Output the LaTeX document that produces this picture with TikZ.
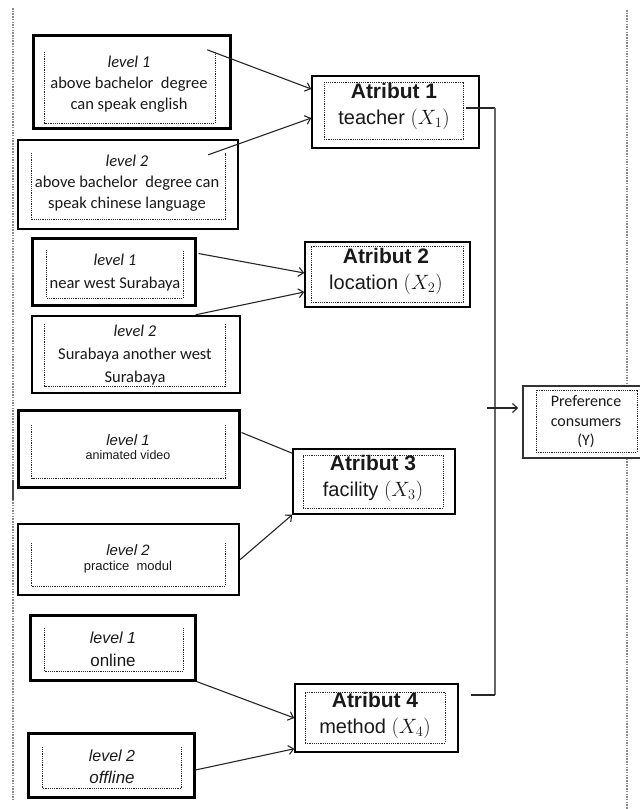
\documentclass[tikz,border=0pt]{standalone}
\usepackage{fontspec}
\setmainfont{Liberation Sans}
\newfontfamily\calfont{Carlito}
\usetikzlibrary{calc,arrows.meta}
\newcommand\lvlframe[1]{\draw[innerline] (#1.north west) -- (#1.south west) -- (#1.south east) -- (#1.north east);}
\begin{document}
\begin{tikzpicture}[x=1pt,y=-1pt,
  outerbox/.style={draw=black, rectangle, inner sep=0pt},
  innerline/.style={draw=black!85, dash pattern=on 1.2pt off 1pt, line width=1pt},
  innerbox/.style={innerline, rectangle, inner sep=0pt},
  innerslot/.style={rectangle, inner sep=0pt},
  txt/.style={inner sep=0pt, align=center, text=black!90},
  conn/.style={draw=black!85, line width=1.1pt, -{Straight Barb[length=5pt,width=9pt]}},
  plainline/.style={draw=black!85, line width=1.1pt},
  sidedot/.style={draw=black!45, line width=1.2pt, dash pattern=on 1.5pt off 1.2pt},
  lvlA/.style={txt, font=\calfont\fontsize{16.5}{21}\selectfont},
  lvlB/.style={txt, font=\calfont\fontsize{16.5}{23}\selectfont},
  attr/.style={txt, font=\fontsize{20}{26}\selectfont},
]
\useasboundingbox (0,0) rectangle (640,809);

% side dotted lines
\coordinate (lt) at (13,8);
\coordinate (lb) at (13,800);
\draw[sidedot] (lt) -- (lb);
\draw[black!70, line width=1.2pt] (13,480) -- (13,500);

% ---------- group 1
\node[outerbox, line width=3pt, minimum width=197pt, minimum height=93pt] (l1a) at (131.5,81.5) {};
\node[innerslot, minimum width=170pt, minimum height=71pt] (l1ai) at (130,87.5) {};
\lvlframe{l1ai}
\node[lvlA] (l1at) at (129,84) {\textit{level 1}\\above bachelor\ \ degree\\can speak english};

\node[outerbox, line width=2.5pt, minimum width=220pt, minimum height=89pt] (l1b) at (128,184.5) {};
\node[innerslot, minimum width=193pt, minimum height=66pt] (l1bi) at (128.5,186) {};
\lvlframe{l1bi}
\node[lvlA] (l1bt) at (127,183) {\textit{level 2}\\above bachelor\ \ degree can\\speak chinese\ language};

\node[outerbox, line width=1.5pt, minimum width=167pt, minimum height=72pt] (atr1) at (395.5,112) {};
\node[innerbox, minimum width=139pt, minimum height=57pt] (atr1i) at (393.5,110.5) {};
\node[attr] (atr1t) at (394,106) {\textbf{\fontsize{21}{26}\selectfont Atribut 1}\\teacher $(X_1)$};

% ---------- group 2
\node[outerbox, line width=3pt, minimum width=163pt, minimum height=67pt] (l2a) at (113.5,271.5) {};
\node[innerslot, minimum width=136pt, minimum height=48pt] (l2ai) at (115,274) {};
\lvlframe{l2ai}
\node[lvlB] (l2at) at (115,273) {\textit{level 1}\\near west Surabaya};

\node[outerbox, line width=2.5pt, minimum width=208pt, minimum height=77pt] (l2b) at (136,354.5) {};
\node[innerslot, minimum width=180pt, minimum height=62pt] (l2bi) at (135,355) {};
\lvlframe{l2bi}
\node[lvlB] (l2bt) at (135,355) {\textit{level 2}\\Surabaya another west\\Surabaya};

\node[outerbox, line width=1.5pt, minimum width=165pt, minimum height=65pt] (atr2) at (387.5,274.5) {};
\node[innerbox, minimum width=152pt, minimum height=56pt] (atr2i) at (387,274) {};
\node[attr] (atr2t) at (386,271) {\textbf{\fontsize{21}{26}\selectfont Atribut 2}\\location $(X_2)$};

% ---------- group 3
\node[outerbox, line width=3pt, minimum width=221pt, minimum height=77pt] (l3a) at (128.5,448.5) {};
\node[innerslot, minimum width=193pt, minimum height=53pt] (l3ai) at (128.5,451.5) {};
\lvlframe{l3ai}
\node[txt] (l3at) at (128,447) {{\fontsize{15}{16}\selectfont\itshape level 1}\\[2pt]{\fontsize{12.5}{14}\selectfont animated video}};

\node[outerbox, line width=2.5pt, minimum width=221pt, minimum height=71pt] (l3b) at (128.5,559.5) {};
\node[innerslot, minimum width=193pt, minimum height=43pt] (l3bi) at (128.5,564.5) {};
\lvlframe{l3bi}
\node[txt] (l3bt) at (128,559) {{\fontsize{15}{16}\selectfont\itshape level 2}\\[3pt]{\fontsize{13}{14}\selectfont practice\ \ modul}};

\node[outerbox, line width=1.5pt, minimum width=162pt, minimum height=65pt] (atr3) at (374,481.5) {};
\node[innerbox, minimum width=140pt, minimum height=53pt] (atr3i) at (373,481.5) {};
\node[attr] (atr3t) at (373,478) {\textbf{\fontsize{21}{26}\selectfont Atribut 3}\\facility $(X_3)$};

% ---------- group 4
\node[outerbox, line width=3pt, minimum width=165pt, minimum height=65pt] (l4a) at (112.5,647.5) {};
\node[innerslot, minimum width=138pt, minimum height=43pt] (l4ai) at (114,649.5) {};
\lvlframe{l4ai}
\node[txt, font=\fontsize{17}{23}\selectfont] (l4at) at (113,649) {{\fontsize{16}{23}\selectfont\itshape level 1}\\online};

\node[outerbox, line width=3pt, minimum width=166pt, minimum height=64pt] (l4b) at (111,765) {};
\node[innerslot, minimum width=138pt, minimum height=41pt] (l4bi) at (112,767.5) {};
\lvlframe{l4bi}
\node[txt, font=\fontsize{17}{22}\selectfont\itshape] (l4bt) at (112,766.5) {{\fontsize{16}{22}\selectfont level 2}\\offline};

\node[outerbox, line width=1.5pt, minimum width=163pt, minimum height=68pt] (atr4) at (376.5,718) {};
\node[innerbox, minimum width=140pt, minimum height=51pt] (atr4i) at (375,717.5) {};
\node[attr] (atr4t) at (375,715) {\textbf{\fontsize{21}{26}\selectfont Atribut 4}\\method $(X_4)$};

% ---------- preference
\node[outerbox, draw=black!80, line width=1.5pt, minimum width=119pt, minimum height=72pt] (pref) at (582.5,422) {};
\node[innerbox, minimum width=101pt, minimum height=62pt] (prefi) at (586.5,421) {};
\node[txt, font=\calfont\fontsize{16}{19.5}\selectfont] (preft) at (586,422) {Preference\\consumers\\(Y)};

% right dotted line (broken by the preference box)
\coordinate (rt) at (627,10);
\coordinate (rb) at (627,809);
\draw[sidedot] (rt) -- (pref.north -| rt);
\draw[sidedot] (pref.south -| rt) -- (rb);

% ---------- connectors
\draw[conn] ($(l1ai.north east)+(-8,-2)$) -- ($(atr1.west)+(0,-23)$);
\draw[conn] ($(l1bi.north east)+(-17,2)$) -- ($(atr1.west)+(0,6)$);
\draw[conn] ($(l2a.north east)+(2,17)$) -- ($(atr2.west)+(0,-1.5)$);
\draw[conn] ($(l2b.north west)+(165,0)$) -- ($(atr2.west)+(0,17.5)$);
\draw[plainline] ($(l3a.north east)+(1,24)$) -- ($(atr3.north west)+(0,5)$);
\draw[conn] (l3b.east) -- (atr3.south west);
\draw[conn] (l4a.south east) -- (atr4.west);
\draw[conn] ($(l4b.east)+(0,5)$) -- ($(atr4.south west)+(0,-4)$);

% right-hand collector
\coordinate (j1) at (495,108);
\coordinate (j4) at (495,695);
\coordinate (ja) at (487,408);
\draw[plainline] ($(atr1i.east)+(2,-2.5)$) -- (j1);
\draw[draw=black!60, line width=1.4pt] (j1) -- (j4);
\draw[plainline] ($(atr4.east)+(12,-23)$) -- (j4);
\draw[conn] (ja) -- ($(pref.west)+(-4,-14)$);
\end{tikzpicture}
\end{document}
